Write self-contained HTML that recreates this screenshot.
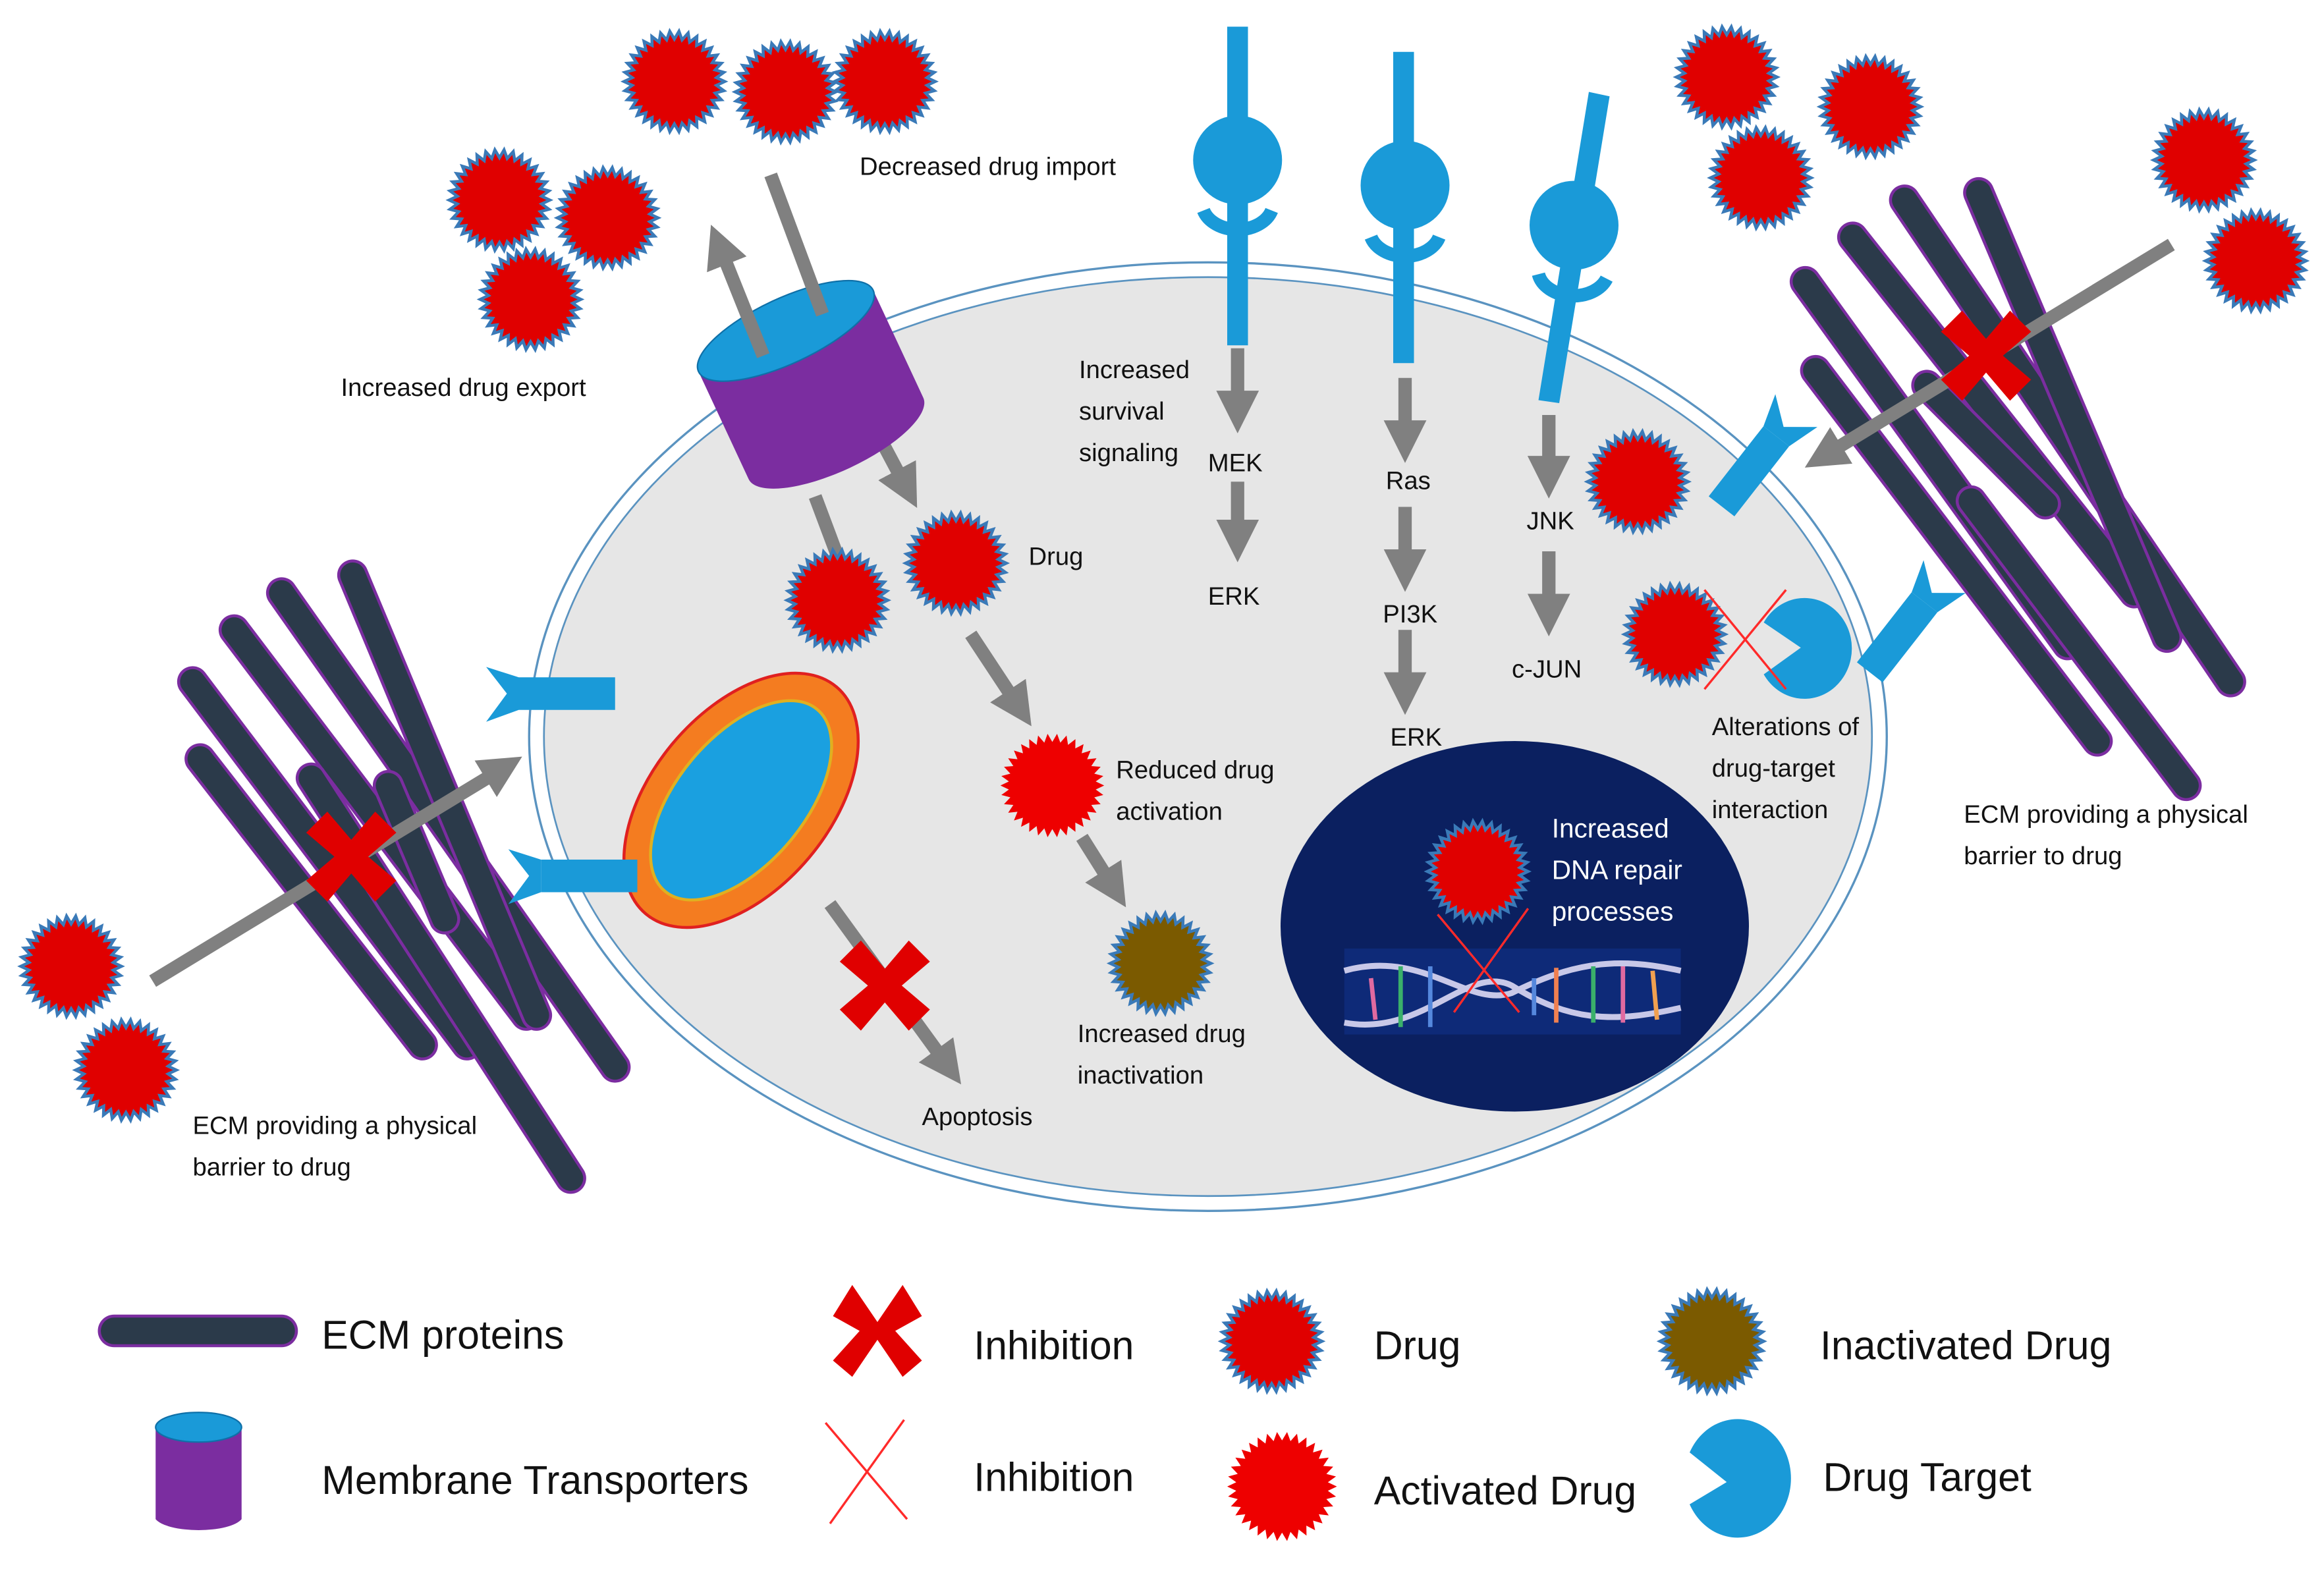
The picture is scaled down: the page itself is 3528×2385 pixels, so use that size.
<!DOCTYPE html>
<html><head><meta charset="utf-8"><style>
html,body{margin:0;padding:0;background:#fff}
svg{display:block}
text{font-family:"Liberation Sans",sans-serif;fill:#111}
</style></head><body>
<svg id="s" width="3528" height="2385" viewBox="0 0 1568 1060" xmlns="http://www.w3.org/2000/svg">
<defs>
<marker id="ah" viewBox="0 0 10 10" refX="5" refY="5" markerWidth="3.2" markerHeight="3.2" orient="auto"><path d="M0,0 L10,5 L0,10 z" fill="#808080"/></marker>
</defs>
<rect width="1568" height="1060" fill="#fff"/>
<ellipse cx="815" cy="497" rx="458" ry="320" fill="#fff" stroke="#5a93c0" stroke-width="1.5"/>
<ellipse cx="815" cy="497" rx="448" ry="310" fill="#e6e6e6" stroke="#5a93c0" stroke-width="1.2"/>
<ellipse cx="1022" cy="625" rx="158" ry="125" fill="#0b2060"/>
<rect x="907" y="640" width="227" height="58" fill="#0e2a78"/>
<path d="M907,655 C960,640 990,680 1020,670 C1060,650 1090,645 1134,655" stroke="#c8c8e8" stroke-width="4" fill="none"/>
<path d="M907,690 C960,700 990,650 1020,665 C1060,690 1090,690 1134,680" stroke="#c8c8e8" stroke-width="4" fill="none"/>
<g stroke-width="3">
<line x1="925" y1="660" x2="928" y2="688" stroke="#e06aa0"/><line x1="945" y1="652" x2="945" y2="693" stroke="#3ab06a"/>
<line x1="965" y1="652" x2="965" y2="693" stroke="#5588dd"/><line x1="1050" y1="653" x2="1050" y2="690" stroke="#f08050"/>
<line x1="1075" y1="652" x2="1075" y2="690" stroke="#3ab06a"/><line x1="1095" y1="652" x2="1095" y2="690" stroke="#e06aa0"/>
<line x1="1115" y1="655" x2="1118" y2="688" stroke="#f0a050"/><line x1="1035" y1="660" x2="1035" y2="685" stroke="#5588dd"/>
</g>
<text x="1047" y="565" style="fill:#fff" font-size="18">Increased</text>
<text x="1047" y="593" style="fill:#fff" font-size="18">DNA repair</text>
<text x="1047" y="621" style="fill:#fff" font-size="18">processes</text>
<g transform="rotate(-50 500 540)">
<ellipse cx="500" cy="540" rx="100" ry="60" fill="#f47c20" stroke="#e02020" stroke-width="2"/>
<ellipse cx="500" cy="540" rx="80" ry="43" fill="#1aa0e0" stroke="#e0b020" stroke-width="2"/>
</g>
<g id="ecm" stroke-linecap="round"></g>
<g stroke="#808080" stroke-width="9" marker-end="url(#ah)" fill="none">
<line x1="103" y1="662" x2="340" y2="518"/>
<line x1="1465" y1="165" x2="1230" y2="308"/>
<line x1="835" y1="235" x2="835" y2="278"/>
<line x1="835" y1="325" x2="835" y2="365"/>
<line x1="948" y1="255" x2="948" y2="298"/>
<line x1="948" y1="342" x2="948" y2="385"/>
<line x1="948" y1="425" x2="948" y2="468"/>
<line x1="1045" y1="280" x2="1045" y2="322"/>
<line x1="1045" y1="372" x2="1045" y2="415"/>
<line x1="655" y1="428" x2="688" y2="478"/>
<line x1="730" y1="565" x2="752" y2="600"/>
<line x1="560" y1="610" x2="640" y2="720"/>
<line x1="595" y1="298" x2="612" y2="330"/>
</g>
<g transform="rotate(-25 545 255)">
<path d="M480,220 L480,300 A65,22 0 0 0 610,300 L610,220 z" fill="#7b2da0"/>
<ellipse cx="545" cy="220" rx="65" ry="22" fill="#1a9ad8" stroke="#0f70a8"/>
</g>
<line x1="515" y1="240" x2="485" y2="165" stroke="#808080" stroke-width="9" marker-end="url(#ah)"/>
<line x1="555" y1="212" x2="520" y2="118" stroke="#808080" stroke-width="9"/>
<line x1="550" y1="335" x2="565" y2="375" stroke="#808080" stroke-width="9"/>
<g fill="#1a9ad8">
<rect x="828" y="18" width="14" height="215"/><circle cx="835" cy="108" r="30"/>
<rect x="940" y="35" width="14" height="210"/><circle cx="948" cy="125" r="30"/>
<path d="M1072,62 L1086,65 L1052,272 L1038,270 z"/><circle cx="1062" cy="152" r="30"/>
</g>
<g fill="none" stroke="#1a9ad8" stroke-width="9">
<path d="M812,142 A24,18 0 0 0 858,142"/><path d="M925,160 A24,18 0 0 0 971,160"/><path d="M1038,185 A24,18 0 0 0 1084,188"/>
</g>
<g fill="#1a9ad8">
<rect x="350" y="457" width="65" height="22"/><path d="M328,450 L350,457 L350,479 L328,487 L342,468 z"/>
<rect x="365" y="580" width="65" height="22"/><path d="M343,573 L365,580 L365,602 L343,610 L357,591 z"/>
<g transform="rotate(-52 1180 318)"><rect x="1150" y="307" width="60" height="22"/><path d="M1210,307 L1232,300 L1218,318 L1232,336 L1210,329 z" /></g>
<g transform="rotate(-52 1280 430)"><rect x="1250" y="419" width="60" height="22"/><path d="M1310,419 L1332,412 L1318,430 L1332,448 L1310,441 z"/></g>
</g>
<path d="M1190,420 A32,34 0 1 1 1190,455 L1215,437 Z" fill="#1a9ad8"/>
<g id="stars"></g>
<g stroke="#ff2a2a" stroke-width="1.5">
<line x1="1150" y1="398" x2="1205" y2="465"/><line x1="1150" y1="465" x2="1205" y2="398"/>
<line x1="970" y1="617" x2="1025" y2="683"/><line x1="1031" y1="613" x2="981" y2="683"/>
<line x1="557" y1="960" x2="612" y2="1025"/><line x1="610" y1="958" x2="560" y2="1028"/>
</g>
<g id="xs"></g>
<g font-size="17">
<text x="580" y="118">Decreased drug import</text>
<text x="230" y="267">Increased drug  export</text>
<text x="728" y="255">Increased</text><text x="728" y="283">survival</text><text x="728" y="311">signaling</text>
<text x="815" y="318">MEK</text><text x="815" y="408">ERK</text>
<text x="935" y="330">Ras</text><text x="933" y="420">PI3K</text><text x="938" y="503">ERK</text>
<text x="1030" y="357">JNK</text><text x="1020" y="457">c-JUN</text>
<text x="694" y="381">Drug</text>
<text x="753" y="525">Reduced drug</text><text x="753" y="553">activation</text>
<text x="727" y="703">Increased drug</text><text x="727" y="731">inactivation</text>
<text x="622" y="759">Apoptosis</text>
<text x="1155" y="496">Alterations of</text><text x="1155" y="524">drug-target</text><text x="1155" y="552">interaction</text>
<text x="1325" y="555">ECM providing  a physical</text><text x="1325" y="583">barrier to drug</text>
<text x="130" y="765">ECM providing  a physical</text><text x="130" y="793">barrier to drug</text>
</g>
<g font-size="27">
<text x="217" y="910">ECM proteins</text>
<text x="217" y="1008">Membrane Transporters</text>
<text x="657" y="917">Inhibition</text>
<text x="657" y="1006">Inhibition</text>
<text x="927" y="917">Drug</text>
<text x="927" y="1015">Activated Drug</text>
<text x="1228" y="917">Inactivated Drug</text>
<text x="1230" y="1006">Drug Target</text>
</g>
<line x1="77" y1="898" x2="190" y2="898" stroke="#7b2da0" stroke-width="22" stroke-linecap="round"/>
<line x1="77" y1="898" x2="190" y2="898" stroke="#2b3a4a" stroke-width="18" stroke-linecap="round"/>
<path d="M105,965 L105,1025 A30,10 0 0 0 163,1025 L163,965 z" fill="#7b2da0"/>
<ellipse cx="134" cy="963" rx="29" ry="10" fill="#1a9ad8" stroke="#0f70a8"/>
<path d="M1140,980 A36,40 0 1 1 1140,1015 L1165,1000 Z" fill="#1a9ad8"/>
</svg>
<script>
var NS="http://www.w3.org/2000/svg";
function el(p,t,a){var e=document.createElementNS(NS,t);for(var k in a)e.setAttribute(k,a[k]);p.appendChild(e);return e;}
var S=document.getElementById("stars");
function star(cx,cy,r,fill,edge){var n=34,pts=[];for(var i=0;i<2*n;i++){var rr=i%2?r*0.84:r;var a=Math.PI*i/n;pts.push((cx+rr*Math.cos(a)).toFixed(1)+","+(cy+rr*Math.sin(a)).toFixed(1));}
el(S,"polygon",{points:pts.join(" "),fill:fill,stroke:edge||"none","stroke-width":edge?2:0});}
var d=[[455,55],[530,62],[597,55],[337,135],[410,147],[358,202],[1165,52],[1262,72],[1188,120],[1487,108],[1522,176],[1105,325],[565,405],[645,380],[1130,428],[48,652],[85,722],[997,588],[858,905]];
d.forEach(function(p){star(p[0],p[1],34,"#e00000","#3a7ab8");});
star(710,530,35,"#ee0000");star(865,1003,37,"#ee0000");
star(783,650,34,"#7b5a00","#3a7ab8");star(1155,905,35,"#7b5a00","#3a7ab8");
var E=document.getElementById("ecm");
var bars=[[130,460,315,705],[158,425,355,685],[190,400,415,720],[238,388,362,685],[135,512,285,705],[210,525,385,795],[262,530,300,620],
[1218,190,1395,435],[1250,160,1440,400],[1285,135,1505,460],[1335,130,1462,430],[1225,250,1415,500],[1330,338,1475,530],[1300,260,1380,340]];
bars.forEach(function(b){el(E,"line",{x1:b[0],y1:b[1],x2:b[2],y2:b[3],stroke:"#7b2da0","stroke-width":21,"stroke-linecap":"round"});
el(E,"line",{x1:b[0],y1:b[1],x2:b[2],y2:b[3],stroke:"#2b3a4a","stroke-width":17,"stroke-linecap":"round"});});
var X=document.getElementById("xs");
function bigx(cx,cy,s,rot){var g=el(X,"g",{transform:"translate("+cx+","+cy+") rotate("+rot+") scale("+s+")"});
el(g,"path",{d:"M-17,-32 L0,-12 L17,-32 L32,-17 L12,0 L32,17 L17,32 L0,12 L-17,32 L-32,17 L-12,0 L-32,-17 z",fill:"#e00000"});}
bigx(237,578,0.95,0);bigx(1340,240,0.95,0);bigx(597,665,0.95,0);
var g=el(X,"g",{transform:"translate(592,898)"});el(g,"path",{d:"M-17,-31 L0,-6 L17,-31 L30,-10 L12,0 L30,20 L17,31 L0,6 L-17,31 L-30,20 L-12,0 L-30,-10 z",fill:"#e00000"});
</script>
</body></html>
